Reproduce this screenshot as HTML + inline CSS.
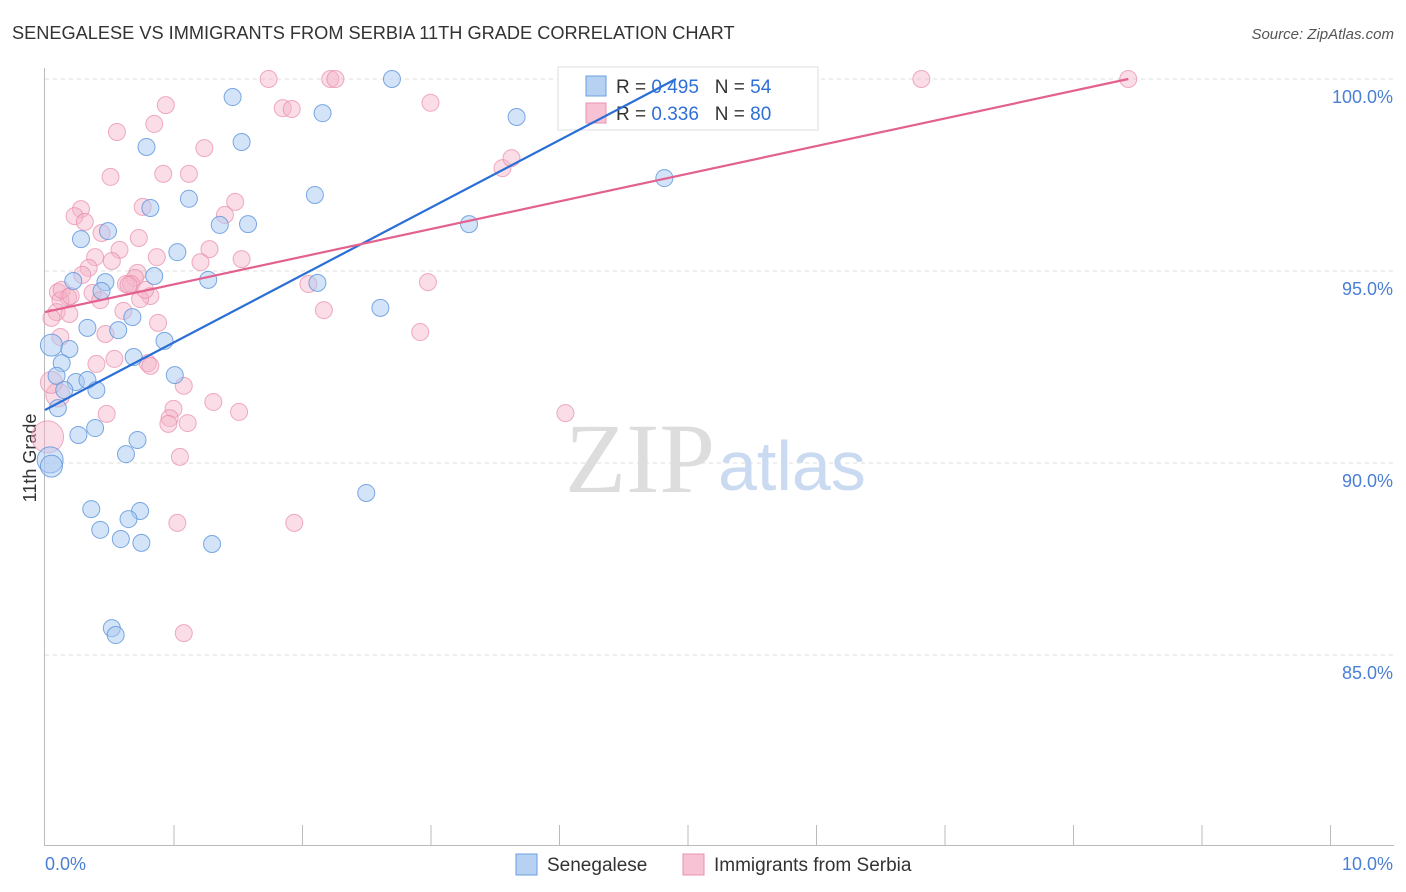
<!DOCTYPE html>
<html><head><meta charset="utf-8"><style>
body{margin:0;background:#fff;font-family:"Liberation Sans",sans-serif;}
svg{display:block}
</style></head><body>
<svg id="chart" width="1406" height="892">
<text x="12" y="39" font-size="18.2" fill="#333">SENEGALESE VS IMMIGRANTS FROM SERBIA 11TH GRADE CORRELATION CHART</text>
<text x="1394" y="39" font-size="15" fill="#555" font-style="italic" text-anchor="end">Source: ZipAtlas.com</text>
<text x="36" y="458" font-size="18" fill="#333" transform="rotate(-90 36 458)" text-anchor="middle">11th Grade</text>
<g id="grid"></g>
<text x="715" y="492" font-size="100" fill="#ddd" font-family="Liberation Serif,serif" text-anchor="end">ZIP</text>
<text x="718" y="490" font-size="70" fill="#c9daf1">atlas</text>
<g id="pts"></g>
<g>
<rect x="558" y="67" width="260" height="63" fill="#fff" fill-opacity="0.9" stroke="#ddd"/>
<rect x="586" y="76" width="20" height="20" fill="#b7d1f3" stroke="#6a9fe0"/>
<rect x="586" y="103" width="20" height="20" fill="#f7c3d4" stroke="#e890b0"/>
<text x="616" y="93" font-size="19" fill="#333">R = <tspan fill="#2f6fd6">0.495</tspan>&#160;&#160;&#160;N = <tspan fill="#2f6fd6">54</tspan></text>
<text x="616" y="120" font-size="19" fill="#333">R = <tspan fill="#2f6fd6">0.336</tspan>&#160;&#160;&#160;N = <tspan fill="#2f6fd6">80</tspan></text>
</g>
<g id="lines"></g>
<rect x="516" y="854" width="21" height="21" fill="#b7d1f3" stroke="#6a9fe0"/>
<text x="547" y="871" font-size="19" fill="#333">Senegalese</text>
<rect x="683" y="854" width="21" height="21" fill="#f7c3d4" stroke="#e890b0"/>
<text x="714" y="871" font-size="19" fill="#333">Immigrants from Serbia</text>
</svg>
<script>
const yTicks=[100,95,90,85];
const yTickLabels=["100.0%","95.0%","90.0%","85.0%"];
const xTickCount=10;
const xTickLabels=["0.0%","10.0%"];
const blueX=[2.70,1.46,2.16,3.67,1.53,0.79,4.82,2.10,1.12,0.82,1.36,1.58,3.30,0.49,0.28,1.03,0.22,0.47,0.85,1.27,2.12,0.44,2.61,0.68,0.33,0.57,0.05,0.19,0.93,0.69,0.13,0.09,1.01,0.24,0.33,0.15,0.40,0.10,0.39,0.26,0.72,0.63,0.04,0.05,2.50,0.36,0.74,0.65,0.43,0.59,0.75,1.30,0.52,0.55];
const blueY=[100,99.53,99.11,99.01,98.36,98.23,97.42,96.98,96.88,96.64,96.20,96.22,96.22,96.04,95.83,95.49,94.74,94.71,94.87,94.77,94.69,94.48,94.04,93.80,93.52,93.46,93.07,92.97,93.18,92.76,92.60,92.27,92.29,92.11,92.16,91.90,91.90,91.43,90.91,90.73,90.60,90.23,90.08,89.92,89.22,88.80,88.75,88.54,88.26,88.02,87.92,87.89,85.70,85.52];
const pinkX=[1.74,2.22,2.26,6.82,8.43,0.94,1.85,1.92,3.00,0.85,0.56,1.24,0.51,0.92,1.12,1.48,0.76,0.28,1.40,0.23,0.31,0.44,0.73,0.58,1.28,0.39,0.87,1.53,0.52,1.21,0.34,0.29,0.72,0.70,0.63,0.67,2.05,2.98,0.10,0.37,0.82,0.18,0.74,0.12,0.61,2.17,0.09,0.19,0.05,0.88,2.92,0.12,0.47,0.54,0.80,0.82,0.40,1.08,1.31,1.00,0.48,1.51,4.05,0.97,1.11,0.96,0.02,1.05,1.03,1.94,1.08,3.56,3.63,0.10,0.13,0.43,0.78,0.65,0.05,0.20];
const pinkY=[100,100,100,100,100,99.32,99.24,99.22,99.38,98.83,98.62,98.20,97.45,97.53,97.53,96.80,96.67,96.61,96.46,96.43,96.28,95.99,95.86,95.55,95.57,95.36,95.36,95.31,95.26,95.23,95.08,94.90,94.95,94.82,94.66,94.66,94.66,94.71,94.45,94.43,94.35,94.32,94.27,94.24,93.96,93.98,93.93,93.88,93.78,93.65,93.41,93.28,93.36,92.71,92.60,92.53,92.58,92.01,91.59,91.41,91.28,91.33,91.30,91.17,91.04,91.02,90.68,90.16,88.44,88.44,85.57,97.68,97.94,91.77,94.51,94.24,94.51,94.64,92.10,94.35];
const blueBig={42:13,43:11,26:11};
const pinkBig={66:16,73:12,78:11};
const blueTrend=[[0,91.38],[4.91,100]];
const pinkTrend=[[0,93.93],[8.43,100]];

const NS="http://www.w3.org/2000/svg";
function sx(v){return 45+v*128.5;}
function sy(v){return 79+(100-v)*38.4;}
function mk(tag,attrs,parent){const e=document.createElementNS(NS,tag);for(const k in attrs)e.setAttribute(k,attrs[k]);parent.appendChild(e);return e;}
const grid=document.getElementById('grid');
yTicks.forEach((t,i)=>{
  const l=mk('line',{x1:45,x2:1394,y1:sy(t),y2:sy(t),stroke:'#ddd','stroke-dasharray':'4,4'},grid);
  
  
  const tx=mk('text',{x:1393,y:sy(t)+24,'font-size':18,fill:'#4a7fd4','text-anchor':'end'},grid);
  tx.textContent=yTickLabels[i];
  
  
});
const ax=mk('line',{x1:44.5,x2:44.5,y1:68,y2:845,stroke:'#bbb'},grid);


const bx=mk('line',{x1:44,x2:1394,y1:845.5,y2:845.5,stroke:'#bbb'},grid);


for(let i=1;i<=xTickCount;i++){
  const t=mk('line',{x1:sx(i)+0.5,x2:sx(i)+0.5,y1:825,y2:845,stroke:'#bbb'},grid);
  
  
}
const xl0=mk('text',{x:45,y:870,'font-size':18,fill:'#4a7fd4'},grid);xl0.textContent=xTickLabels[0];


const xl1=mk('text',{x:1393,y:870,'font-size':18,fill:'#4a7fd4','text-anchor':'end'},grid);xl1.textContent=xTickLabels[1];



const pts=document.getElementById('pts');
pinkX.forEach((x,i)=>{
  const c=mk('circle',{cx:sx(x),cy:sy(pinkY[i]),r:pinkBig[i]||8.5,fill:'#f4b3c8','fill-opacity':0.45,stroke:'#e88aab','stroke-opacity':0.7,'stroke-width':1},pts);
  
  
});
blueX.forEach((x,i)=>{
  const c=mk('circle',{cx:sx(x),cy:sy(blueY[i]),r:blueBig[i]||8.5,fill:'#a9c9f1','fill-opacity':0.5,stroke:'#5b94dc','stroke-opacity':0.8,'stroke-width':1},pts);
  
  
});
const lines=document.getElementById('lines');
const bl=mk('line',{x1:sx(blueTrend[0][0]),y1:sy(blueTrend[0][1]),x2:sx(blueTrend[1][0]),y2:sy(blueTrend[1][1]),stroke:'#2a6fd6','stroke-width':2.2},lines);


const pl=mk('line',{x1:sx(pinkTrend[0][0]),y1:sy(pinkTrend[0][1]),x2:sx(pinkTrend[1][0]),y2:sy(pinkTrend[1][1]),stroke:'#e3618f','stroke-width':2.2},lines);


</script>
</body></html>
